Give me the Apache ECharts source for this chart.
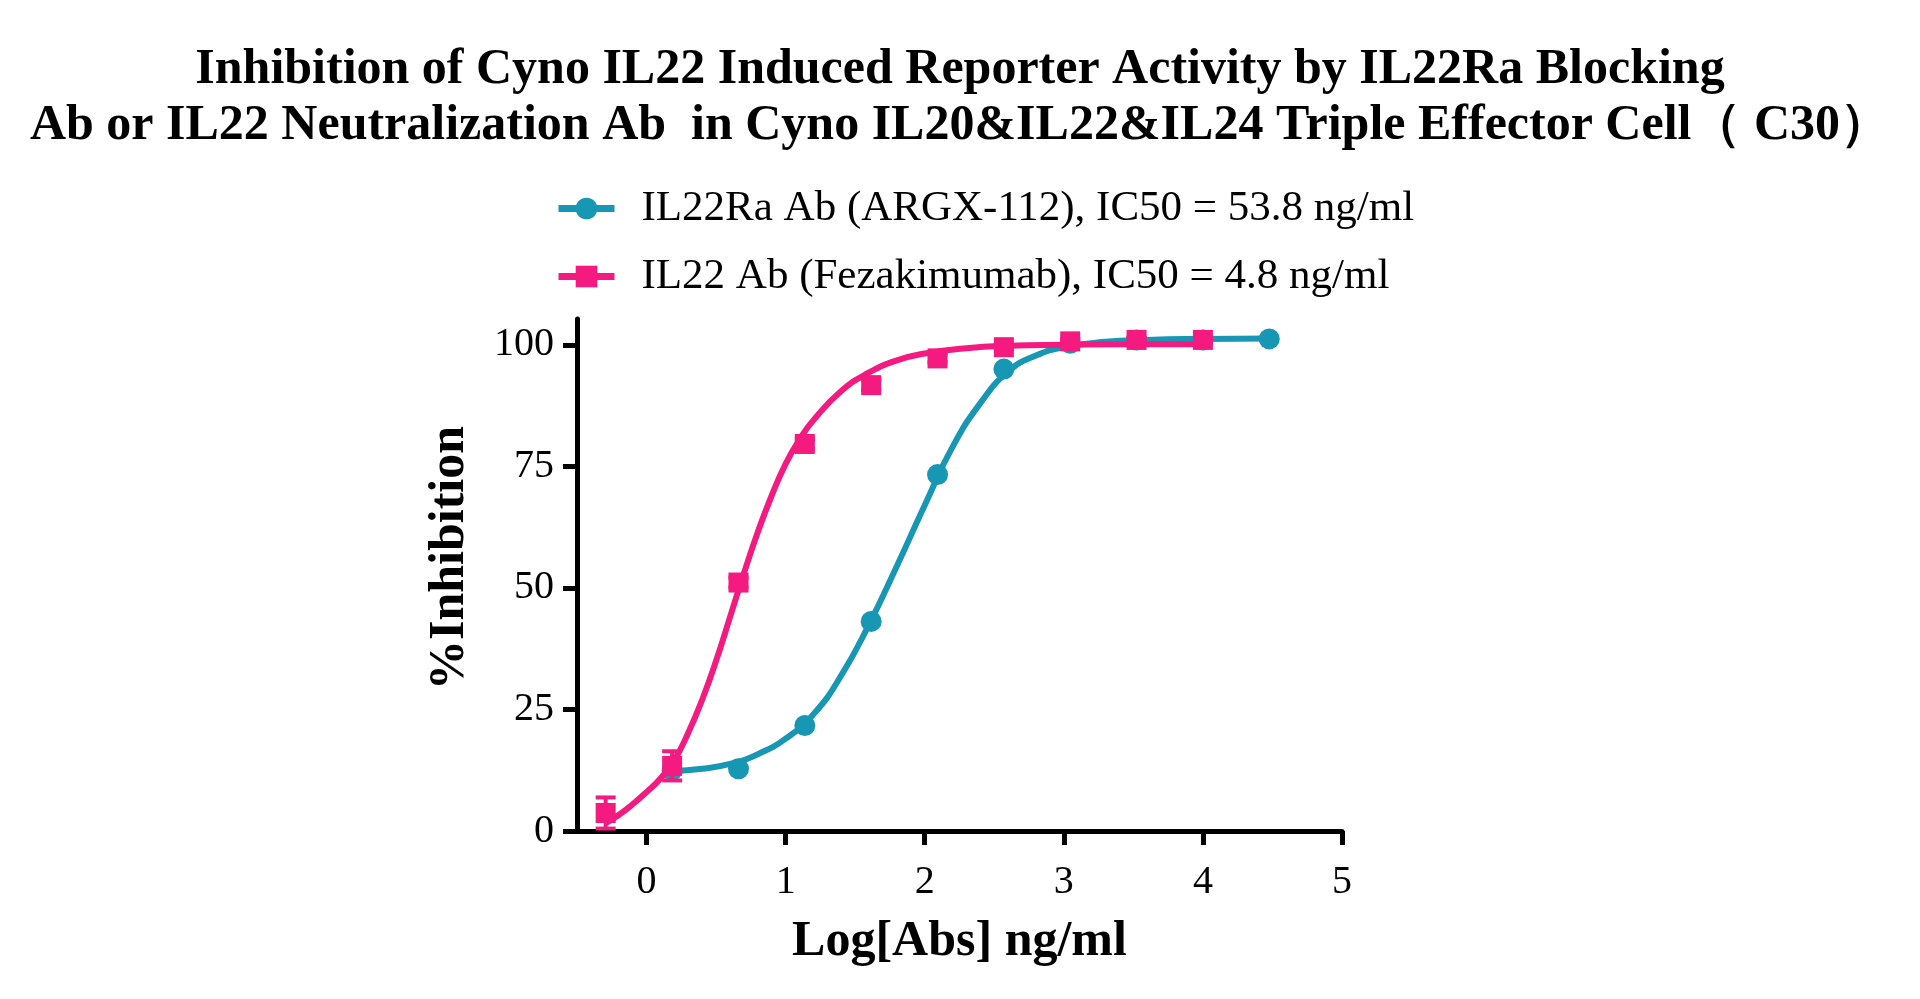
<!DOCTYPE html>
<html>
<head>
<meta charset="UTF-8">
<title>IL22 inhibition</title>
<script src="https://cdn.jsdelivr.net/npm/echarts@6/dist/echarts.min.js"></script>
<style>
html, body { margin: 0; padding: 0; background: #fff; }
#main { width: 1920px; height: 999px; }
</style>
</head>
<body>
<div id="main"></div>
<script type="text/javascript">
// log10 concentration (ng/ml) of the measured points
var tealX = [0.184, 0.661, 1.138, 1.615, 2.092, 2.569, 3.046, 3.523, 4.0, 4.477];
var tealY = [12.5, 12.8, 21.7, 43.1, 73.3, 95.0, 100.3, 101.0, 101.0, 101.2];
var pinkX = [-0.294, 0.184, 0.661, 1.138, 1.615, 2.092, 2.569, 3.046, 3.523, 4.0];
var pinkY = [3.7, 13.4, 51.1, 79.6, 91.7, 97.2, 99.5, 100.7, 101.0, 101.0];
var pinkErr = [3.2, 3.0, 1.0, 1.0, 1.0, 0.8, 0.5, 0.5, 0.5, 0.5];

// fitted curves
var tealCurveX = [0.18, 0.4, 0.6, 0.8, 1.0, 1.2, 1.4, 1.6, 1.8, 2.0, 2.2, 2.4, 2.6, 2.8, 3.0, 3.3, 3.6, 4.0, 4.47];
var tealCurveY = [12.3, 12.8, 13.8, 15.8, 19, 24, 32, 42.5, 54.5, 67, 79, 88, 94.5, 97.8, 99.5, 100.6, 101, 101.2, 101.3];
var pinkCurveX = [-0.3, -0.2, -0.1, 0, 0.1, 0.2, 0.3, 0.4, 0.5, 0.6, 0.7, 0.8, 0.9, 1.0, 1.1, 1.2, 1.4, 1.6, 1.8, 2.0, 2.3, 2.6, 3.0, 3.5, 4.0];
var pinkCurveY = [1.5, 3.3, 5.5, 8, 10.8, 14.6, 20.2, 27, 35, 44, 53, 61.5, 69, 75.5, 80.5, 84.5, 90.5, 94.3, 96.8, 98.2, 99.3, 99.8, 100, 100.1, 100.1];

var xTicks = [0, 1, 2, 3, 4, 5];
var tealName = 'IL22Ra Ab (ARGX-112), IC50 = 53.8 ng/ml';
var pinkName = 'IL22 Ab (Fezakimumab), IC50 = 4.8 ng/ml';

var TEAL = '#1797b4';
var PINK = '#f41a80';
var SERIF = '"Liberation Serif", "Times New Roman", serif';

function pairs(xs, ys) {
  return xs.map(function (x, i) { return [x, ys[i]]; });
}

function errData(xs, ys, es) {
  return xs.map(function (x, i) { return [x, ys[i] - es[i], ys[i] + es[i]]; });
}

function errBar(color) {
  return function (params, api) {
    var lo = api.coord([api.value(0), api.value(1)]);
    var hi = api.coord([api.value(0), api.value(2)]);
    var w = 10;
    var st = { stroke: color, lineWidth: 4 };
    return {
      type: 'group',
      children: [
        { type: 'line', shape: { x1: lo[0], y1: lo[1], x2: hi[0], y2: hi[1] }, style: st },
        { type: 'line', shape: { x1: lo[0] - w, y1: lo[1], x2: lo[0] + w, y2: lo[1] }, style: st },
        { type: 'line', shape: { x1: hi[0] - w, y1: hi[1], x2: hi[0] + w, y2: hi[1] }, style: st }
      ]
    };
  };
}

var myChart = echarts.init(document.getElementById('main'));
var option = {
  backgroundColor: '#fff',
  animation: false,
  title: {
    text: 'Inhibition of Cyno IL22 Induced Reporter Activity by IL22Ra Blocking\nAb or IL22 Neutralization Ab  in Cyno IL20&IL22&IL24 Triple Effector Cell\uff08 C30\uff09',
    left: 'center',
    top: 37,
    textStyle: {
      fontFamily: SERIF,
      fontWeight: 'bold',
      fontSize: 50,
      lineHeight: 56,
      color: '#000'
    }
  },
  legend: {
    data: [tealName, pinkName],
    orient: 'vertical',
    left: 550,
    top: 182,
    itemWidth: 56,
    itemHeight: 27,
    itemGap: 25,
    lineStyle: { width: 7 },
    textStyle: {
      fontFamily: SERIF,
      fontSize: 43,
      lineHeight: 43,
      color: '#000',
      padding: [0, 0, 0, 22]
    }
  },
  grid: {
    left: 577,
    right: 578,
    top: 319,
    bottom: 168,
    containLabel: false
  },
  xAxis: {
    type: 'value',
    min: -0.5,
    max: 5,
    name: 'Log[Abs] ng/ml',
    nameLocation: 'middle',
    nameGap: 86,
    nameTextStyle: { fontFamily: SERIF, fontWeight: 'bold', fontSize: 50, color: '#000' },
    splitLine: { show: false },
    axisLine: { onZero: false, lineStyle: { color: '#000', width: 5 } },
    axisTick: { length: 14, lineStyle: { color: '#000', width: 5 }, customValues: xTicks },
    axisLabel: { fontFamily: SERIF, fontSize: 40, color: '#000', margin: 31, customValues: xTicks }
  },
  yAxis: {
    type: 'value',
    min: 0,
    max: 105.3,
    interval: 25,
    name: '%Inhibition',
    nameLocation: 'middle',
    nameGap: 102,
    nameTextStyle: { fontFamily: SERIF, fontWeight: 'bold', fontSize: 50, color: '#000', padding: [0, 0, 0, 34] },
    splitLine: { show: false },
    axisLine: { show: true, onZero: false, lineStyle: { color: '#000', width: 5 } },
    axisTick: { show: true, length: 14, lineStyle: { color: '#000', width: 5 } },
    axisLabel: { fontFamily: SERIF, fontSize: 40, color: '#000', margin: 23, showMaxLabel: false }
  },
  series: [
    {
      name: tealName,
      type: 'line',
      smooth: true,
      symbol: 'circle',
      showSymbol: false,
      color: TEAL,
      lineStyle: { color: TEAL, width: 6 },
      data: pairs(tealCurveX, tealCurveY),
      z: 2
    },
    {
      name: 'teal points',
      type: 'scatter',
      symbol: 'circle',
      symbolSize: 21,
      itemStyle: { color: TEAL, opacity: 1 },
      data: pairs(tealX, tealY),
      z: 3
    },
    {
      name: pinkName,
      type: 'line',
      smooth: true,
      symbol: 'rect',
      showSymbol: false,
      color: PINK,
      lineStyle: { color: PINK, width: 6 },
      data: pairs(pinkCurveX, pinkCurveY),
      z: 4
    },
    {
      name: 'pink error',
      type: 'custom',
      renderItem: errBar(PINK),
      data: errData(pinkX, pinkY, pinkErr),
      z: 5
    },
    {
      name: 'pink points',
      type: 'scatter',
      symbol: 'rect',
      symbolSize: 20,
      itemStyle: { color: PINK, opacity: 1 },
      data: pairs(pinkX, pinkY),
      z: 6
    }
  ]
};
myChart.setOption(option);
</script>
</body>
</html>
